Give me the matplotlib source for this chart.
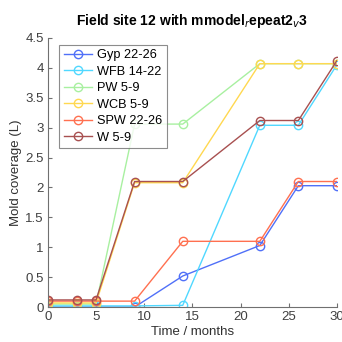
import matplotlib
matplotlib.use("Agg")
import matplotlib.pyplot as plt

plt.rcParams['font.family'] = ['Liberation Sans', 'DejaVu Sans']

time = [0, 3, 5, 9, 14, 22, 26, 30]
labels = ["Gyp 22-26", "WFB 14-22", "PW 5-9", "WCB 5-9", "SPW 22-26", "W 5-9"]
gyp = [0.0, 0.0, 0.0, 0.0, 0.52, 1.03, 2.03, 2.03]
wfb = [0.02, 0.02, 0.02, 0.02, 0.03, 3.04, 3.04, 4.05]
pw = [0.05, 0.05, 0.05, 3.06, 3.06, 4.07, 4.07, 4.07]
wcb = [0.07, 0.07, 0.07, 2.08, 2.08, 4.07, 4.07, 4.07]
spw = [0.1, 0.1, 0.1, 0.1, 1.1, 1.1, 2.1, 2.1]
w = [0.12, 0.12, 0.12, 2.1, 2.1, 3.12, 3.12, 4.12]
series = [gyp, wfb, pw, wcb, spw, w]
colors = ['#5070f8', '#50d8ff', '#a8f0a0', '#ffd850', '#ff7050', '#a85050']

fig = plt.figure(figsize=(3.42, 3.42), dpi=100)
ax = fig.add_axes([0.14, 0.102, 0.845, 0.787])
for ys, lab, c in zip(series, labels, colors):
    ax.plot(time, ys, '-o', color=c, label=lab, lw=1.0, ms=6,
            markerfacecolor='none', markeredgewidth=1.0)

ax.set_xlim(0, 30)
ax.set_ylim(0, 4.5)
ax.set_xticks(range(0, 31, 5))
ax.set_yticks([0, 0.5, 1, 1.5, 2, 2.5, 3, 3.5, 4, 4.5])
ax.set_yticklabels(['0', '0.5', '1', '1.5', '2', '2.5', '3', '3.5', '4', '4.5'])
for s in ['top', 'right']:
    ax.spines[s].set_visible(False)
for s in ['left', 'bottom']:
    ax.spines[s].set_color('#707070')
ax.tick_params(direction='in', length=3, colors='#404040', labelsize=9.5, pad=3)
ax.tick_params(axis='both', color='#707070')
ax.set_xlabel('Time / months', fontsize=9.5, color='#303030', labelpad=2)
ax.set_ylabel('Mold coverage (L)', fontsize=9.5, color='#303030', labelpad=2)
ax.set_title('Field site 12 with mmodel$_{r}$epeat2$_{v}$3', fontsize=10, fontweight='bold', pad=9)
leg = ax.legend(loc='upper left', bbox_to_anchor=(0.04, 0.975), fontsize=9.2, frameon=True,
                fancybox=False, edgecolor='#707070', handlelength=2.2, borderpad=0.35,
                labelspacing=0.35, handletextpad=0.4, borderaxespad=0.0)
leg.get_frame().set_linewidth(0.8)
fig.savefig('out.png', dpi=100)
